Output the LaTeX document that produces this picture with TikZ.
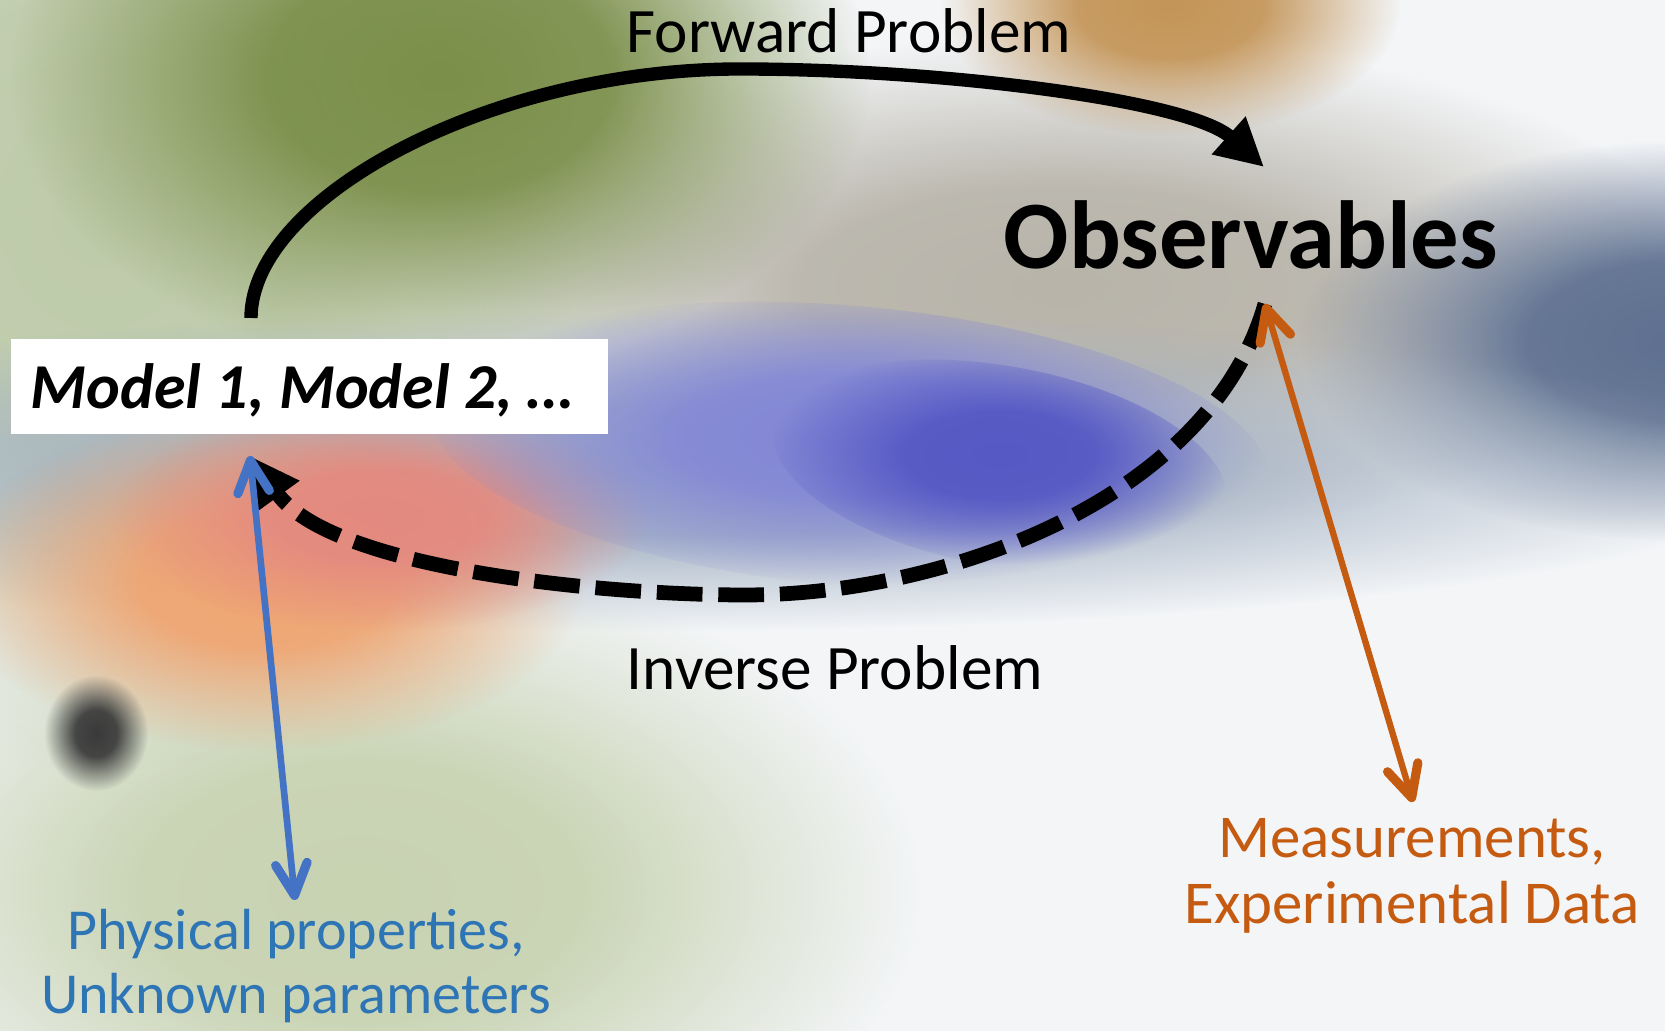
\documentclass[tikz,border=0pt]{standalone}
\usepackage{fontspec}
\setmainfont{Carlito}
\usetikzlibrary{arrows.meta,fadings}
\pgfdeclareradialshading{blobshade}{\pgfpointorigin}{color(0bp)=(white); color(10bp)=(white!93!black); color(25bp)=(black); color(50bp)=(black)}
\pgfdeclarefading{blobfade}{\pgfuseshading{blobshade}}
\definecolor{bgbase}{HTML}{F3F5F7}
\definecolor{leftgreen}{HTML}{BECBAA}
\definecolor{olive}{HTML}{7B8F4A}
\definecolor{tan}{HTML}{C49558}
\definecolor{greyring}{HTML}{B8B4AA}
\definecolor{slate}{HTML}{5E7090}
\definecolor{band}{HTML}{A4B2C4}
\definecolor{paleGreen}{HTML}{C8D3B2}
\definecolor{orangeblob}{HTML}{F0A572}
\definecolor{pinkblob}{HTML}{E48A80}
\definecolor{blueblob}{HTML}{8488D6}
\definecolor{bluecore}{HTML}{5658C4}
\definecolor{darkspot}{HTML}{3A3A3A}
\definecolor{txtblue}{HTML}{2E75B6}
\definecolor{arrblue}{HTML}{4472C4}
\definecolor{txtorange}{HTML}{C55A11}
\tikzset{
  blob/.style={fill=#1, path fading=blobfade},
  fwdarrow/.style={line width=3.8pt, -{Triangle[length=13.5pt,width=13.5pt]}},
  invarrow/.style={line width=4.2pt, dash pattern=on 13pt off 4.5pt, -{Triangle[length=14pt,width=13.5pt]}},
  bluearrow/.style={draw=arrblue, line width=1.9pt, line cap=round, {Straight Barb[length=9pt,width=9pt,line width=2.6pt,round]}-{Straight Barb[length=9pt,width=9pt,line width=2.6pt,round]}},
  orangearrow/.style={draw=txtorange, line width=1.8pt, line cap=round, {Straight Barb[length=9pt,width=9pt,line width=2.6pt,round]}-{Straight Barb[length=9pt,width=9pt,line width=2.6pt,round]}},
  lbl/.style={inner sep=0pt, anchor=base},
}
\begin{document}
\begin{tikzpicture}[x=0.01cm,y=0.01cm]
\useasboundingbox (0,0) rectangle (1665,1031);
% background
\fill[bgbase] (0,0) rectangle (1665,1031);
\begin{scope}
\clip (0,0) rectangle (1665,1031);
\fill[blob=paleGreen] (360,140) ellipse (560 and 330);
\fill[blob=leftgreen] (100,820) ellipse (480 and 560);
\fill[blob=greyring] (1062,744) ellipse (650 and 250);
\fill[blob=slate] (1680,690) ellipse (380 and 200);
\fill[blob=band] (650,560) ellipse (1150 and 160);
\fill[blob=olive] (440,955) ellipse (430 and 290);
\fill[blob=tan] (1170,1025) ellipse (230 and 130);
\fill[blob=orangeblob] (265,450) ellipse (320 and 170);
\fill[blob=pinkblob] (380,515) ellipse (270 and 115);
\fill[blob=blueblob, rotate around={-5:(850,585)}] (850,585) ellipse (420 and 140);
\fill[blob=bluecore, rotate around={-10:(1000,565)}] (1000,565) ellipse (230 and 100);
\fill[blob=darkspot] (96,298) ellipse (52 and 58);
\end{scope}
% nodes
\node[fill=white, inner sep=0pt, anchor=south west, minimum width=5.964cm, minimum height=0.95cm] (box) at (10.6,596) {};
\node[lbl, anchor=base west, font=\fontsize{18.2}{22}\selectfont\bfseries\itshape] (model) at (30,622) {Model 1, Model 2, …};
\node[lbl, font=\fontsize{27.5}{33}\selectfont\bfseries] (obs) at (1251,762) {Observables};
\node[lbl, font=\fontsize{18}{22}\selectfont] (fwd) at (849,978) {Forward Problem};
\node[lbl, font=\fontsize{18}{22}\selectfont] (inv) at (835,341) {Inverse Problem};
\node[lbl, text=txtblue, align=center, font=\fontsize{16.5}{18.2}\selectfont] (phys) at (296,17) {Physical properties,\\Unknown parameters};
\node[lbl, text=txtorange, align=center, font=\fontsize{17.3}{18.8}\selectfont] (meas) at (1412,107) {Measurements,\\Experimental Data};
% anchor coordinates
\coordinate (fwdstart) at (251,713);
\coordinate (fwdtop) at (740,962);
\coordinate (fwdtip) at (1264,864);
\coordinate (obsbot) at (1265,727);
\coordinate (invbot) at (745,436);
\coordinate (modbot) at (250,575);
\coordinate (physTop) at (295,131);
\coordinate (measTop) at (1413,229);
% connectors
\draw[fwdarrow] (fwdstart) .. controls +(0,120) and +(-250,0) .. (fwdtop)
  .. controls +(200,0) and +(-75,67) .. (fwdtip);
\draw[invarrow] (obsbot) to[out=-106,in=0,looseness=0.87] (invbot) to[out=180,in=-54,looseness=0.7] (modbot);
\draw[bluearrow] (modbot) -- (physTop);
\draw[orangearrow] (obsbot) -- (measTop);
\end{tikzpicture}
\end{document}
